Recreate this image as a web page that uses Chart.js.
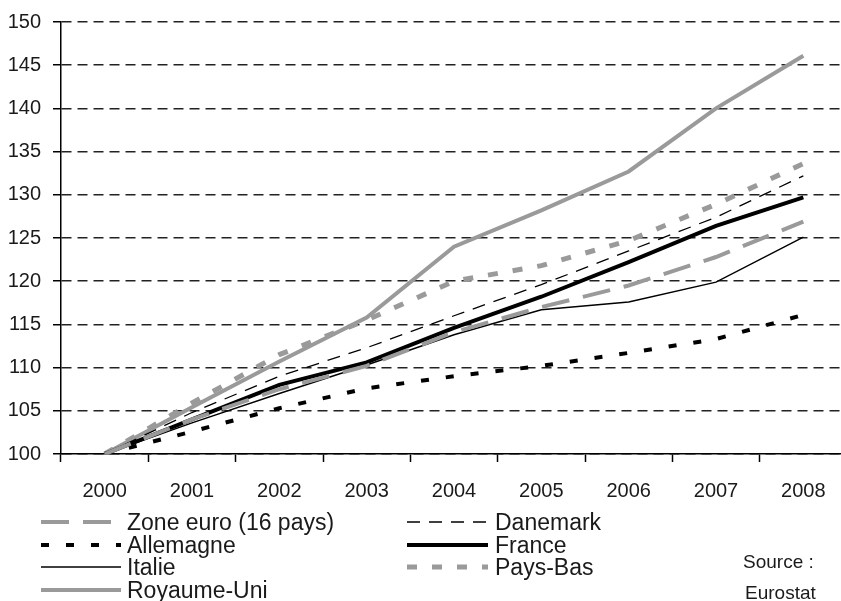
<!DOCTYPE html>
<html>
<head>
<meta charset="utf-8">
<script src="https://cdn.jsdelivr.net/npm/chart.js@4"></script>
<style>
  html, body { margin: 0; padding: 0; background: #fff; overflow: hidden; }
  #wrap { width: 841px; height: 601px; overflow: hidden; position: relative; }
  #chart { display: block; }
</style>
</head>
<body>
<div id="wrap"><canvas id="chart" width="860" height="601" style="width:860px;height:601px"></canvas></div>
<script>
// data (index 2000 = 100)
const years = ['2000', '2001', '2002', '2003', '2004', '2005', '2006', '2007', '2008'];
const zoneEuro = [100, 104.0, 107.5, 110.2, 114.1, 117.0, 119.5, 122.8, 126.9];
const danemark = [100, 104.8, 109.0, 112.3, 116.0, 119.6, 123.5, 127.4, 132.2];
const allemagne = [100, 102.6, 105.3, 107.6, 109.0, 110.2, 111.7, 113.3, 116.1];
const france = [100, 104.0, 108.0, 110.6, 114.6, 118.2, 122.2, 126.4, 129.7];
const italie = [100, 103.6, 107.0, 110.3, 113.8, 116.7, 117.6, 119.9, 125.1];
const paysBas = [100, 105.9, 111.5, 115.5, 120.0, 121.8, 124.7, 128.9, 133.6];
const royaumeUni = [100, 105.4, 110.7, 115.8, 124.0, 128.2, 132.7, 140.0, 146.1];
const seriesNames = ['Zone euro (16 pays)', 'Danemark', 'Allemagne', 'France', 'Italie', 'Pays-Bas', 'Royaume-Uni'];
const yMin = 100, yMax = 150, yStep = 5;
const sourceLines = ['Source :', 'Eurostat'];

const GREY = '#9a9a9a';
const SANS = '"Liberation Sans", Arial, sans-serif';

function line(label, data, color, width, dash) {
    return {
        label: label,
        data: data,
        borderColor: color,
        backgroundColor: color,
        borderWidth: width,
        borderDash: dash,
        pointRadius: 0,
        tension: 0,
        fill: false
    };
}

// legend in two columns + source note, drawn under the plot
const legendPlugin = {
    id: 'twoColLegend',
    afterDraw(chart) {
        const ctx = chart.ctx;
        const cols = [{x1: 41, x2: 121, tx: 127}, {x1: 407, x2: 488, tx: 495}];
        const rows = [524, 547, 569, 592];
        ctx.save();
        chart.data.datasets.forEach((ds, i) => {
            const c = cols[i % 2];
            const y = rows[Math.floor(i / 2)];
            ctx.beginPath();
            ctx.strokeStyle = ds.borderColor;
            ctx.lineWidth = ds.borderWidth;
            ctx.setLineDash(ds.borderDash || []);
            ctx.moveTo(c.x1, y - 2);
            ctx.lineTo(c.x2, y - 2);
            ctx.stroke();
            ctx.setLineDash([]);
            ctx.fillStyle = '#1a1a1a';
            ctx.font = '23px ' + SANS;
            ctx.textBaseline = 'middle';
            ctx.textAlign = 'left';
            ctx.fillText(ds.label, c.tx, y);
        });
        ctx.font = '19px ' + SANS;
        ctx.fillText(sourceLines[0], 743, 563);
        ctx.fillText(sourceLines[1], 745, 594);
        ctx.restore();
    }
};

const ctx = document.getElementById('chart').getContext('2d');
const chart = new Chart(ctx, {
    type: 'line',
    data: {
        labels: years,
        datasets: [
            line(seriesNames[0], zoneEuro, GREY, 4, [28, 14]),
            line(seriesNames[1], danemark, '#000', 1.3, [13, 9]),
            line(seriesNames[2], allemagne, '#000', 4, [8, 17]),
            line(seriesNames[3], france, '#000', 4, []),
            line(seriesNames[4], italie, '#000', 1.4, []),
            line(seriesNames[5], paysBas, GREY, 5, [10, 15]),
            line(seriesNames[6], royaumeUni, GREY, 4, [])
        ]
    },
    options: {
        responsive: false,
        animation: false,
        devicePixelRatio: 1,
        layout: { padding: { top: 22, right: 13, left: 0, bottom: 0 } },
        plugins: {
            legend: { display: false },
            tooltip: { enabled: false }
        },
        scales: {
            x: {
                offset: true,
                grid: {
                    offset: true,
                    drawOnChartArea: false,
                    drawTicks: true,
                    tickLength: 8,
                    tickColor: '#000',
                    tickWidth: 1.5
                },
                border: { color: '#000', width: 1.5 },
                ticks: {
                    color: '#1a1a1a',
                    padding: 17,
                    maxRotation: 0,
                    font: { family: SANS, size: 20 }
                },
                afterFit(scale) { scale.height = 601 - 454; }
            },
            y: {
                min: yMin,
                max: yMax,
                grid: {
                    color: '#222',
                    lineWidth: 1.5,
                    drawTicks: true,
                    tickLength: 8,
                    tickColor: '#000',
                    tickWidth: 1.5
                },
                border: { color: '#000', width: 1.5, dash: [10, 6] },
                ticks: {
                    stepSize: yStep,
                    color: '#1a1a1a',
                    padding: 12,
                    font: { family: SANS, size: 20, lineHeight: 1 }
                },
                afterFit(scale) { scale.width = 61; }
            }
        }
    },
    plugins: [legendPlugin]
});
</script>
</body>
</html>
